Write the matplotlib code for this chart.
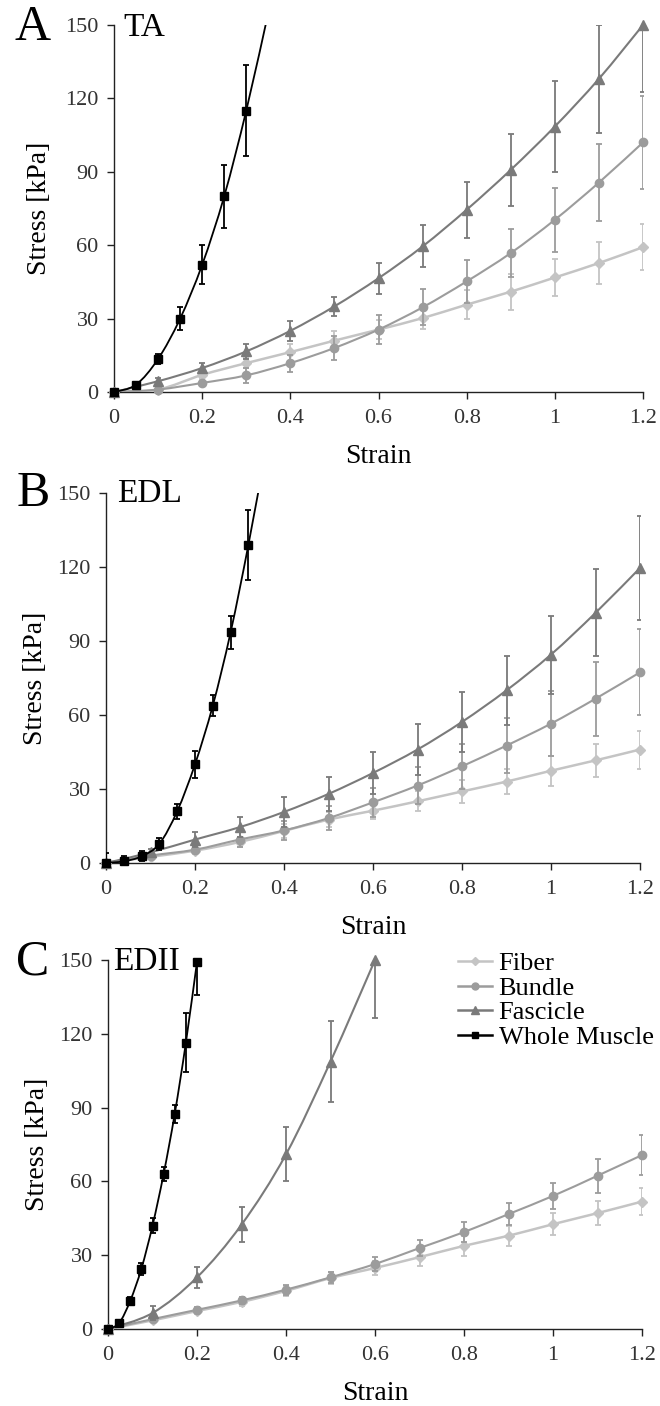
import matplotlib
matplotlib.use('Agg')
import matplotlib.pyplot as plt
import numpy as np
from matplotlib.path import Path
from matplotlib.patches import PathPatch
from matplotlib.lines import Line2D

plt.rcParams['font.family'] = ['Liberation Serif', 'DejaVu Serif']

# ---- data ----
strain = [0, 0.1, 0.2, 0.3, 0.4, 0.5, 0.6, 0.7, 0.8, 0.9, 1.0, 1.1, 1.2]

# A: TA
fiber_a = [0, 1, 7, 11.8, 16.3, 21, 25.5, 30.2, 35.7, 41, 46.8, 52.7, 59.2]
fiber_a_err = [0, 0.8, 1.5, 2, 3.5, 4, 4, 4.5, 6, 7.3, 7.7, 8.5, 9.5]
bundle_a = [0, 1, 3.7, 6.8, 11.8, 18, 25.5, 34.6, 45.2, 56.8, 70.4, 85.6, 102]
bundle_a_err = [0, 0.8, 1, 3, 3.5, 5, 5.8, 7.3, 8.8, 10, 13, 15.8, 19]
fascicle_a = [0, 4.4, 9.8, 16.6, 25, 35, 46.5, 59.5, 74.5, 90.8, 108.5, 128, 150]
fascicle_a_err = [0, 1.5, 2, 3, 4, 4, 6.3, 8.6, 11.4, 14.8, 18.7, 22, 27.5]
whole_a_x = [0, 0.05, 0.1, 0.15, 0.2, 0.25, 0.3, 0.35]
whole_a = [0, 3, 13.5, 30, 52, 80, 115, 155]
whole_a_err = [0, 1, 2, 4.6, 8, 12.8, 18.6, 0]

# B: EDL
fiber_b = [0, 2.5, 5, 8.5, 13, 17.6, 21.2, 25, 29, 33, 37.4, 41.6, 46]
fiber_b_err = [0, 1, 1.5, 2, 3, 3, 3.5, 4, 4.7, 5, 6, 6.8, 7.7]
bundle_b = [0, 3, 5.4, 9.5, 13.2, 18.2, 24.6, 31.4, 39.2, 47.6, 56.5, 66.6, 77.3]
bundle_b_err = [0, 1, 1.5, 3, 4, 5, 6, 7.5, 9, 11, 13.3, 15, 17.4]
fascicle_b = [0, 4.3, 9.5, 14.5, 20.7, 28, 36.5, 46, 57.2, 70, 84.5, 101.4, 119.6]
fascicle_b_err = [0, 1.5, 3, 4, 6, 7, 8.5, 10.5, 12, 14, 15.8, 17.6, 21]
whole_b_x = [0, 0.04, 0.08, 0.12, 0.16, 0.2, 0.24, 0.28, 0.32, 0.36]
whole_b = [0, 0.7, 2.7, 7.8, 21, 40, 63.8, 93.5, 129, 168]
whole_b_err = [4, 2, 2, 2.5, 3, 5.4, 4.3, 6.8, 14.3, 0]

# C: EDII
fiber_c = [0, 3.5, 7.3, 11, 15.5, 20.7, 24.8, 29.2, 33.8, 37.9, 42.6, 47.1, 51.8]
fiber_c_err = [0, 0.8, 1, 1.5, 2, 2.5, 3, 3.5, 4, 4, 4.5, 5, 5.4]
bundle_c = [0, 4, 7.8, 11.6, 16, 21, 26.4, 32.9, 39.4, 46.7, 54.1, 62.3, 70.7]
bundle_c_err = [0, 1, 1, 1.5, 2, 2.3, 2.8, 3.4, 3.9, 4.6, 5.4, 6.9, 8]
fascicle_c_x = [0, 0.1, 0.2, 0.3, 0.4, 0.5, 0.6]
fascicle_c = [0, 6.5, 21, 42.4, 71, 108.7, 150]
fascicle_c_err = [0, 3, 4.4, 7, 11, 16.6, 23.5]
whole_c_x = [0, 0.025, 0.05, 0.075, 0.1, 0.125, 0.15, 0.175, 0.2]
whole_c = [0, 2.4, 11.5, 24.5, 42, 63, 87.5, 116.4, 149.3]
whole_c_err = [0, 1, 1.5, 2.5, 3, 3, 3.7, 12, 13.5]

series_names = ['Fiber', 'Bundle', 'Fascicle', 'Whole Muscle']
yticks = [0, 30, 60, 90, 120, 150]
xticks = [0, 0.2, 0.4, 0.6, 0.8, 1.0, 1.2]
xtick_labels = ['0', '0.2', '0.4', '0.6', '0.8', '1', '1.2']

# ---- styles ----
styles = {
    'Fiber': dict(color='#c4c4c4', marker='D', ms=5, lw=1.8, z=3),
    'Bundle': dict(color='#9c9c9c', marker='o', ms=6, lw=1.5, z=4),
    'Fascicle': dict(color='#7a7a7a', marker='^', ms=7, lw=1.5, z=5),
    'Whole Muscle': dict(color='#000000', marker='s', ms=6, lw=1.3, z=6),
}


def smooth_path(x, y):
    # Excel-like smoothed line (Catmull-Rom as cubic Bezier)
    pts = np.column_stack([x, y]).astype(float)
    n = len(pts)
    verts = [pts[0]]
    codes = [Path.MOVETO]
    for i in range(n - 1):
        p0 = pts[max(i - 1, 0)]
        p1 = pts[i]
        p2 = pts[i + 1]
        p3 = pts[min(i + 2, n - 1)]
        verts += [p1 + (p2 - p0) / 6, p2 - (p3 - p1) / 6, p2]
        codes += [Path.CURVE4] * 3
    return Path(verts, codes)


def draw_series(ax, x, y, err, name):
    st = styles[name]
    x = np.asarray(x)
    y = np.asarray(y)
    ax.add_patch(PathPatch(smooth_path(x, y), facecolor='none',
                           edgecolor=st['color'], lw=st['lw'], zorder=st['z']))
    ax.errorbar(x, y, yerr=err, fmt='none', ecolor=st['color'], elinewidth=1.3,
                capsize=2.5, capthick=1.3, zorder=st['z'])
    inside = y <= 150
    ax.plot(x[inside], y[inside], ls='none', marker=st['marker'], ms=st['ms'],
            color=st['color'], zorder=st['z'] + 0.5, clip_on=False)


W, H = 660, 1406
fig = plt.figure(figsize=(6.6, 14.06), dpi=100)
fig.set_facecolor('white')

# panel boxes in pixels: left, top(150), right(1.2), bottom(0)
boxes = [(114, 25, 643, 392), (106, 493, 640, 863), (108, 960, 642, 1329)]
letters = ['A', 'B', 'C']
titles = ['TA', 'EDL', 'EDII']
letter_y = [28, 494, 962]
title_x = [123, 117, 113]
ylabel_x = [39, 36, 38]

panels = [
    (fiber_a, fiber_a_err, bundle_a, bundle_a_err, strain, fascicle_a, fascicle_a_err,
     whole_a_x, whole_a, whole_a_err),
    (fiber_b, fiber_b_err, bundle_b, bundle_b_err, strain, fascicle_b, fascicle_b_err,
     whole_b_x, whole_b, whole_b_err),
    (fiber_c, fiber_c_err, bundle_c, bundle_c_err, fascicle_c_x, fascicle_c, fascicle_c_err,
     whole_c_x, whole_c, whole_c_err),
]

for k, (l, t, r, b) in enumerate(boxes):
    ax = fig.add_axes([l / W, 1 - b / H, (r - l) / W, (b - t) / H])
    fib, fib_e, bun, bun_e, fas_x, fas, fas_e, wm_x, wm, wm_e = panels[k]
    draw_series(ax, strain, fib, fib_e, 'Fiber')
    draw_series(ax, strain, bun, bun_e, 'Bundle')
    draw_series(ax, fas_x, fas, fas_e, 'Fascicle')
    draw_series(ax, wm_x, wm, wm_e, 'Whole Muscle')

    ax.set_xlim(0, 1.2)
    ax.set_ylim(0, 150)
    ax.set_xticks(xticks)
    ax.set_xticklabels(xtick_labels)
    ax.set_yticks(yticks)
    ax.spines['top'].set_visible(False)
    ax.spines['right'].set_visible(False)
    for s in ['left', 'bottom']:
        ax.spines[s].set_color('#222222')
        ax.spines[s].set_linewidth(1.0)
    ax.tick_params(direction='out', length=5, width=1, color='#222222',
                   labelsize=16, labelcolor='#333333')
    ax.tick_params(axis='x', pad=7)
    ax.tick_params(axis='y', pad=6)

    ax.set_xlabel('Strain', fontsize=20, va='center')
    ax.xaxis.set_label_coords(0.5, -64 / (b - t))
    ax.set_ylabel('Stress [kPa]', fontsize=20, va='center')
    ax.yaxis.set_label_coords((ylabel_x[k] - l) / (r - l), 0.5)

    fig.text(33 / W, 1 - letter_y[k] / H, letters[k], fontsize=36,
             ha='center', va='center')
    fig.text(title_x[k] / W, 1 - letter_y[k] / H, titles[k], fontsize=24,
             ha='left', va='center')

    if k == 2:
        handles = [Line2D([], [], color=styles[n]['color'], marker=styles[n]['marker'],
                          ms=styles[n]['ms'] - 1, lw=1.8) for n in series_names]
        ax.legend(handles, series_names, loc='upper left',
                  bbox_to_anchor=(0.655, 1.022), frameon=False, fontsize=19,
                  handlelength=1.3, handletextpad=0.25, labelspacing=0.04,
                  borderpad=0, borderaxespad=0)

fig.savefig('out.png', dpi=100)
